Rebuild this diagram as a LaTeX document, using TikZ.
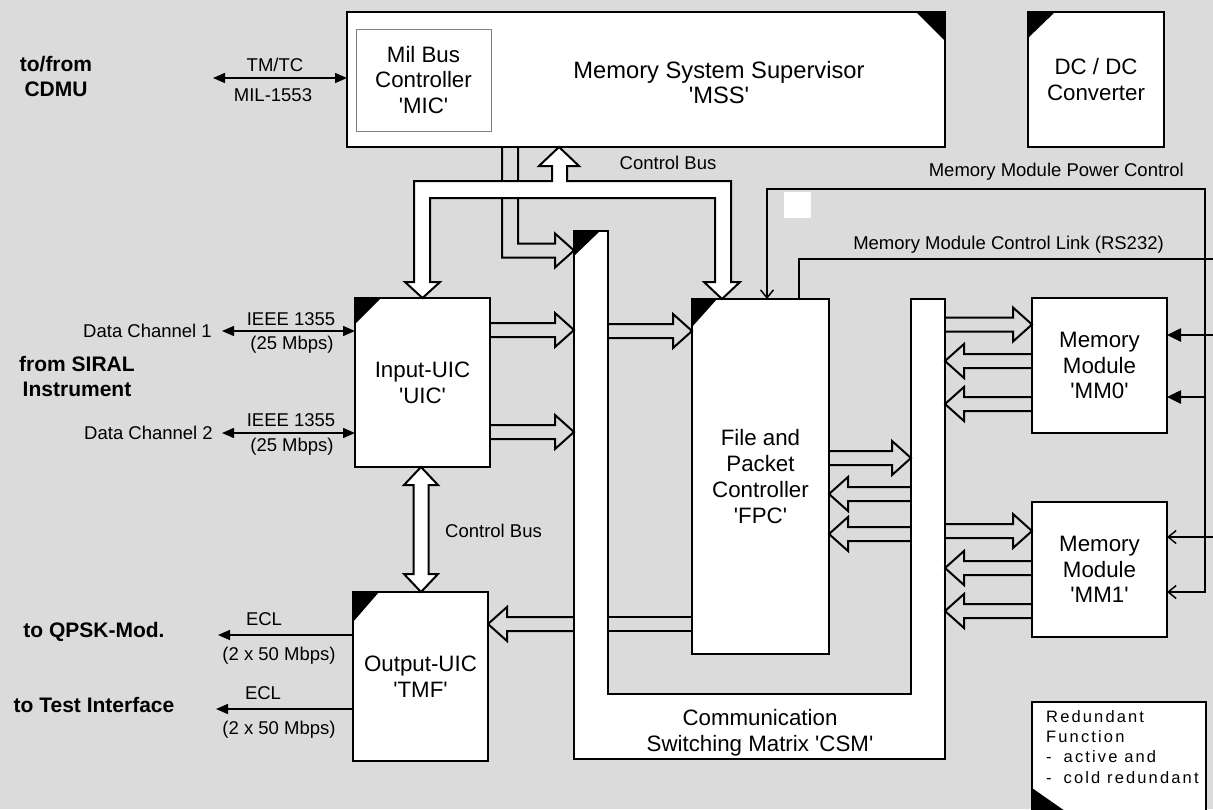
\documentclass[tikz,border=0pt]{standalone}
\usepackage{fontspec}
\setmainfont{Liberation Sans}[Ligatures=TeXOff]
\usetikzlibrary{arrows.meta,calc}
\definecolor{bg}{RGB}{219,219,219}
\newcommand{\fmain}{\fontsize{22.3}{25.7}\selectfont}
\newcommand{\fsmall}{\fontsize{18.5}{21}\selectfont}
\newcommand{\fbold}{\fontsize{21}{25}\selectfont\bfseries}
\newcommand{\flegend}{\fontsize{16.5}{20.3}\selectfont\addfontfeature{LetterSpace=13}}
% hollow (block) arrow from #1 (tail) to #2 (tip)
\newcommand{\blockarrow}[2]{%
  \path #1 coordinate (ba-A) #2 coordinate (ba-B);
  \path ($(ba-B)!19pt!(ba-A)$) coordinate (ba-H);
  \draw[barrow] ($(ba-A)!7pt!90:(ba-B)$) -- ($(ba-H)!7pt!90:(ba-B)$) -- ($(ba-H)!17pt!90:(ba-B)$) -- (ba-B)
     -- ($(ba-H)!17pt!-90:(ba-B)$) -- ($(ba-H)!7pt!-90:(ba-B)$) -- ($(ba-A)!7pt!-90:(ba-B)$);}
\begin{document}
\begin{tikzpicture}[x=1pt,y=-1pt,
  box/.style={draw, line width=2pt, fill=white, inner sep=0pt, outer sep=0pt, align=center, font=\fmain, anchor=north west},
  barrow/.style={draw, line width=2pt, line join=miter},
  bus/.style={draw, line width=2pt, fill=white, line join=miter},
  thinl/.style={draw, line width=1.5pt},
  dart/.style={draw, line width=1.5pt},
  lbl/.style={font=\fsmall, inner sep=0pt},
  blbl/.style={font=\fbold, align=center, inner sep=0pt},
  ftip/.tip={Triangle[length=12pt,width=10pt]},
  btip/.tip={Straight Barb[length=8pt,width=13pt]},
  mtip/.tip={Triangle[length=14pt,width=13pt]},
]
\useasboundingbox (0,0) rectangle (1213,809);
\fill[bg] (0,0) rectangle (1213,809);
\clip (0,0) rectangle (1213,809);

% ---------- boxes ----------
\node[box, minimum width=598, minimum height=135] (mss) at (347,12) {};
\fill (mss.north east) -- ++(-29,0) -- ++(29,29) -- cycle;
\node[box, draw=gray, line width=1pt, minimum width=135, minimum height=102] (mic) at (356,29) {Mil Bus\\Controller\\'MIC'};
\node[font=\fontsize{23.7}{25}\selectfont, align=center, inner sep=0pt] (msst) at (719,83) {Memory System Supervisor\\'MSS'};

\node[box, minimum width=136, minimum height=135] (dcdc) at (1028,12) {DC / DC\\Converter};
\fill (dcdc.north west) -- ++(27,0) -- ++(-27,26) -- cycle;

% CSM
\coordinate (csmLo) at (574,231);
\coordinate (csmLi) at (608,231);
\coordinate (csmRi) at (911,299);
\coordinate (csmRo) at (945,299);
\draw[line width=2pt, fill=white] (csmLo) -- (csmLi) -- (608,694) -- (911,694) -- (csmRi) -- (csmRo) -- (945,759) -- (574,759) -- cycle;
\fill (csmLo) -- ++(26,0) -- ++(-26,25) -- cycle;
\node[font=\fmain, align=center, inner sep=0pt] (csm) at (760,733) {Communication\\Switching Matrix 'CSM'};

\node[box, minimum width=135, minimum height=169] (uic) at (355,298) {Input-UIC\\'UIC'};
\fill (uic.north west) -- ++(26,0) -- ++(-26,26) -- cycle;
\node[box, minimum width=135, minimum height=169] (tmf) at (353,592) {Output-UIC\\'TMF'};
\fill (tmf.north west) -- ++(26,0) -- ++(-26,30) -- cycle;
\node[box, minimum width=137, minimum height=355] (fpc) at (692,299) {File and\\Packet\\Controller\\'FPC'};
\fill (fpc.north west) -- ++(25,0) -- ++(-25,28) -- cycle;
\node[box, minimum width=135, minimum height=135] (mm0) at (1032,298) {Memory\\Module\\'MM0'};
\node[box, minimum width=135, minimum height=135] (mm1) at (1032,502) {Memory\\Module\\'MM1'};

% legend
\node[box, minimum width=174, minimum height=130] (leg) at (1032,702) {};
\fill (1032,788) -- (1075,818) -- (1032,818) -- cycle;
\node[anchor=north west, align=left, font=\flegend, inner sep=0pt] (legt) at (1046,710) {Redundant\\Function\\-\hspace{12pt}active and\\-\hspace{12pt}cold redundant};

% white square artefact
\fill[white] (784,192) rectangle (811,218);

% ---------- MSS -> CSM link ----------
\draw[barrow] (mss.south -| 502,0) -- (502,257.5) -- (555,257.5) -- (555,267.5) -- (csmLo |- 0,250.5) -- (555,233.5) -- (555,243.5) -- (518,243.5) -- (mss.south -| 518,0);

% ---------- control bus ----------
\draw[bus] (mss.south -| 559,0) -- (579,166) -- (567,166) -- (567,181) -- (731,181) -- (731,282) -- (740,282) -- (fpc.north west -| 722,0)
  -- (704,282) -- (715,282) -- (715,198) -- (430,198) -- (430,282) -- (440,282) -- (uic.north) -- (405,282) -- (414,282)
  -- (414,181) -- (552,181) -- (552,166) -- (539,166) -- cycle;
\node[lbl] (cb1) at (668,163) {Control Bus};

\draw[bus] (uic.south -| 421,0) -- (438,485) -- (428.5,485) -- (428.5,574) -- (438,574) -- (tmf.north -| 421,0) -- (404,574) -- (413.5,574) -- (413.5,485) -- (404,485) -- cycle;
\node[lbl, anchor=west] (cb2) at (445,531) {Control Bus};

% ---------- data arrows ----------
\blockarrow{(uic.east |- 0,330)}{(csmLo |- 0,330)}
\blockarrow{(uic.east |- 0,432)}{(csmLo |- 0,432)}
\blockarrow{(csmLi |- 0,331)}{(fpc.west |- 0,331)}
\blockarrow{(fpc.east |- 0,458)}{(csmRi |- 0,458)}
\blockarrow{(csmRi |- 0,494)}{(fpc.east |- 0,494)}
\blockarrow{(csmRi |- 0,534)}{(fpc.east |- 0,534)}
\blockarrow{(csmRo |- 0,324.5)}{(mm0.west |- 0,324.5)}
\blockarrow{(mm0.west |- 0,361)}{(csmRo |- 0,361)}
\blockarrow{(mm0.west |- 0,404)}{(csmRo |- 0,404)}
\blockarrow{(csmRo |- 0,531)}{(mm1.west |- 0,531)}
\blockarrow{(mm1.west |- 0,568)}{(csmRo |- 0,568)}
\blockarrow{(mm1.west |- 0,611)}{(csmRo |- 0,611)}
\blockarrow{(csmLo |- 0,624)}{(tmf.east |- 0,624)}
\draw[line width=2pt] (csmLi |- 0,617) -- (fpc.west |- 0,617);
\draw[line width=2pt] (csmLi |- 0,631) -- (fpc.west |- 0,631);

% ---------- power control & control link ----------
\coordinate (pc1) at (767,189);
\coordinate (pc2) at (1205,189);
\coordinate (cl1) at (799,259);
\coordinate (cl2) at (1213,259);
\draw[thinl, btip-btip] (fpc.north -| pc1) -- (pc1) -- (pc2) -- (pc2 |- 0,592) -- (mm1.east |- 0,592);
\draw[line width=2.6pt, -mtip] (pc2 |- 0,397) -- (mm0.east |- 0,397);
\draw[thinl] (fpc.north -| cl1) -- (cl1) -- (cl2);
\draw[line width=2.6pt, -mtip] (cl2 |- 0,335) -- (mm0.east |- 0,335);
\draw[thinl, -btip] (cl2 |- 0,537) -- (mm1.east |- 0,537);
\node[lbl, anchor=east] (pcl) at (1184,172) {Memory Module Power Control};
\node[lbl, anchor=east] (cll) at (1164,245) {Memory Module Control Link (RS232)};

% ---------- external links ----------
\coordinate (cdmu) at (213,78);
\draw[dart, ftip-ftip] (cdmu) -- (mss.west |- cdmu);
\node[lbl] (tmtc) at (275,65) {TM/TC};
\node[lbl] (mil) at (273,95) {MIL-1553};
\node[blbl] (cdmut) at (56,76) {to/from\\CDMU};

\coordinate (dc1) at (222,331);
\coordinate (dc2) at (222,433);
\draw[dart, ftip-ftip] (dc1) -- (uic.west |- dc1);
\draw[dart, ftip-ftip] (dc2) -- (uic.west |- dc2);
\node[lbl, anchor=east] (dc1t) at (212,331) {Data Channel 1};
\node[lbl, anchor=east] (dc2t) at (213,433) {Data Channel 2};
\node[lbl] (ie1) at (291,319) {IEEE 1355};
\node[lbl] (mb1) at (292,345) {(25 Mbps)};
\node[lbl] (ie2) at (291,420) {IEEE 1355};
\node[lbl] (mb2) at (292,447) {(25 Mbps)};
\node[blbl] (siral) at (77,376) {from SIRAL\\Instrument};

\coordinate (q1) at (218,635);
\coordinate (q2) at (216,709);
\draw[dart, -ftip] (tmf.west |- q1) -- (q1);
\draw[dart, -ftip] (tmf.west |- q2) -- (q2);
\node[lbl] (ecl1) at (264,619) {ECL};
\node[lbl] (r1) at (279,656) {(2 x 50 Mbps)};
\node[lbl] (ecl2) at (263,693) {ECL};
\node[lbl] (r2) at (279,730) {(2 x 50 Mbps)};
\node[blbl] (qpsk) at (94,632) {to QPSK-Mod.};
\node[blbl] (test) at (94,705) {to Test Interface};
\end{tikzpicture}
\end{document}
